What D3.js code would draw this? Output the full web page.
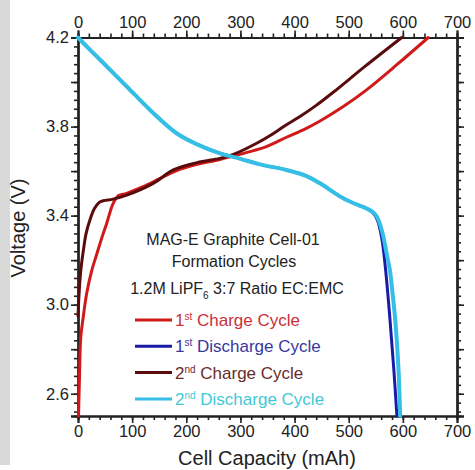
<!DOCTYPE html>
<html>
<head>
<meta charset="utf-8">
<script src="https://cdn.jsdelivr.net/npm/d3@7"></script>
<style>
  body { margin: 0; background: #fff; }
  svg text { font-family: "Liberation Sans", Arial, Helvetica, sans-serif !important; }
</style>
</head>
<body>
<svg id="chart" width="475" height="470"></svg>
<script>
// data: [capacity mAh, voltage V]
const charge1 = [[1,2.5],[3,2.7],[5,2.85],[10,2.95],[16,3.05],[25,3.15],[35,3.23],[44,3.3],[53,3.365],[65,3.455],[75,3.49],[90,3.5],[120,3.53],[150,3.565],[180,3.6],[220,3.63],[262,3.652],[287,3.668],[324,3.692],[348,3.71],[385,3.752],[420,3.79],[447,3.825],[490,3.89],[533,3.965],[590,4.08],[647,4.2]];
const discharge1 = [[0,4.2],[20,4.15],[45,4.09],[90,3.98],[135,3.87],[182,3.77],[220,3.72],[262,3.68],[300,3.655],[336,3.63],[385,3.605],[420,3.58],[447,3.545],[475,3.5],[496,3.47],[520,3.445],[533,3.432],[545,3.412],[553,3.38],[561,3.3],[568,3.16],[576,2.94],[583,2.72],[589,2.5]];
const charge2 = [[0,2.95],[2,3.05],[5,3.15],[10,3.245],[15,3.32],[22,3.38],[30,3.43],[41,3.462],[65,3.474],[90,3.492],[139,3.545],[176,3.605],[220,3.638],[262,3.657],[287,3.675],[330,3.725],[355,3.76],[380,3.8],[410,3.845],[440,3.895],[472,3.955],[530,4.07],[598,4.2]];
const discharge2 = [[0,4.2],[20,4.15],[45,4.09],[90,3.98],[135,3.87],[182,3.77],[220,3.72],[262,3.68],[300,3.655],[336,3.63],[385,3.605],[420,3.58],[447,3.545],[475,3.5],[496,3.47],[520,3.445],[533,3.432],[545,3.415],[552,3.395],[558,3.36],[564,3.305],[570,3.23],[576,3.155],[581,3.05],[586,2.93],[592,2.706],[595,2.5]];

const xTicks = [0,100,200,300,400,500,600,700];
const yTicks = [2.6,3.0,3.4,3.8,4.2];

const series = [
  {name: "Charge Cycle", ord: "1", sup: "st", data: charge1, line: "#d01a1a", text: "#c8303a", w: 3},
  {name: "Charge Cycle", ord: "2", sup: "nd", data: charge2, line: "#5a0c0c", text: "#6b2b2b", w: 3},
  {name: "Discharge Cycle", ord: "1", sup: "st", data: discharge1, line: "#1a1aa8", text: "#3838a0", w: 3},
  {name: "Discharge Cycle", ord: "2", sup: "nd", data: discharge2, line: "#35bfe6", text: "#3fc9d6", w: 4}
];
// legend order as in the picture
const legendOrder = [0, 2, 1, 3];

const svg = d3.select("#chart");

// grey strip at the left edge of the screenshot
svg.append("rect").attr("x", 0).attr("y", 0).attr("width", 10).attr("height", 465).attr("fill", "#d9d9d9");

const pLeft = 78, pRight = 457, pTop = 37.5, pBottom = 416;
const x = d3.scaleLinear().domain([0, 700]).range([pLeft, pRight]);
const y = d3.scaleLinear().domain([2.5, 4.2]).range([pBottom, pTop]);

const xMinor = d3.range(0, 701, 20);
const yMinor = d3.range(2.52, 4.201, 0.04).map(v => +v.toFixed(2));
const yMid = [2.8, 3.2, 3.6, 4.0];

function styleAxis(g) {
  g.select(".domain").attr("stroke", "#222").attr("stroke-width", 2);
  g.selectAll(".tick line").attr("stroke", "#222").attr("stroke-width", 1.6);
  g.selectAll(".tick text").attr("fill", "#222").style("font-size", "16.5px");
}

// minor ticks
svg.append("g").attr("transform", `translate(0,${pBottom})`)
  .call(d3.axisBottom(x).tickValues(xMinor).tickSize(4).tickFormat("")).call(styleAxis);
svg.append("g").attr("transform", `translate(0,${pTop})`)
  .call(d3.axisTop(x).tickValues(xMinor).tickSize(4).tickFormat("")).call(styleAxis);
svg.append("g").attr("transform", `translate(${pLeft},0)`)
  .call(d3.axisLeft(y).tickValues(yMinor).tickSize(4).tickFormat("")).call(styleAxis);
svg.append("g").attr("transform", `translate(${pRight},0)`)
  .call(d3.axisRight(y).tickValues(yMinor).tickSize(4).tickFormat("")).call(styleAxis);
svg.append("g").attr("transform", `translate(${pLeft},0)`)
  .call(d3.axisLeft(y).tickValues(yMid).tickSize(7).tickFormat("")).call(styleAxis);
svg.append("g").attr("transform", `translate(${pRight},0)`)
  .call(d3.axisRight(y).tickValues(yMid).tickSize(7).tickFormat("")).call(styleAxis);

// labelled ticks
svg.append("g").attr("transform", `translate(0,${pBottom})`)
  .call(d3.axisBottom(x).tickValues(xTicks).tickSize(7).tickPadding(2).tickFormat(d3.format("d"))).call(styleAxis);
svg.append("g").attr("transform", `translate(0,${pTop})`)
  .call(d3.axisTop(x).tickValues(xTicks).tickSize(7).tickPadding(3).tickFormat(d3.format("d"))).call(styleAxis);
svg.append("g").attr("transform", `translate(${pLeft},0)`)
  .call(d3.axisLeft(y).tickValues(yTicks).tickSize(7).tickPadding(2).tickFormat(d3.format(".1f"))).call(styleAxis);
svg.append("g").attr("transform", `translate(${pRight},0)`)
  .call(d3.axisRight(y).tickValues(yTicks).tickSize(7).tickFormat("")).call(styleAxis);

// axis titles
svg.append("text").attr("x", 267).attr("y", 465).attr("text-anchor", "middle")
  .attr("fill", "#222").style("font-size", "20px").text("Cell Capacity (mAh)");
svg.append("text").attr("transform", "translate(25,228) rotate(-90)").attr("text-anchor", "middle")
  .attr("fill", "#222").style("font-size", "20px").text("Voltage (V)");

// curves
const line = d3.line().x(d => x(d[0])).y(d => y(d[1])).curve(d3.curveCatmullRom);
const plot = svg.append("g");
series.forEach(s => {
  plot.append("path").datum(s.data)
    .attr("d", line)
    .attr("fill", "none").attr("stroke", s.line).attr("stroke-width", s.w)
    .attr("stroke-linejoin", "round").attr("stroke-linecap", "round");
});

// annotation block
const note = svg.append("g").attr("fill", "#222").style("font-size", "16px").attr("text-anchor", "middle");
note.append("text").attr("x", 233).attr("y", 245).text("MAG-E Graphite Cell-01");
note.append("text").attr("x", 234).attr("y", 267).text("Formation Cycles");
const t3 = note.append("text").attr("x", 237).attr("y", 294);
t3.append("tspan").text("1.2M LiPF");
t3.append("tspan").attr("dy", 5).style("font-size", "10px").text("6");
t3.append("tspan").attr("dy", -5).text(" 3:7 Ratio EC:EMC");

// legend
const lg = svg.append("g");
legendOrder.forEach((k, i) => {
  const s = series[k];
  const yy = 320 + i * 26.3;
  lg.append("line").attr("x1", 135).attr("x2", 172).attr("y1", yy).attr("y2", yy)
    .attr("stroke", s.line).attr("stroke-width", 3);
  const t = lg.append("text").attr("x", 175).attr("y", yy + 6).attr("fill", s.text).style("font-size", "17px");
  t.append("tspan").text(s.ord);
  t.append("tspan").attr("dy", -6).style("font-size", "10px").text(s.sup);
  t.append("tspan").attr("dy", 6).text(" " + s.name);
});
</script>
</body>
</html>
